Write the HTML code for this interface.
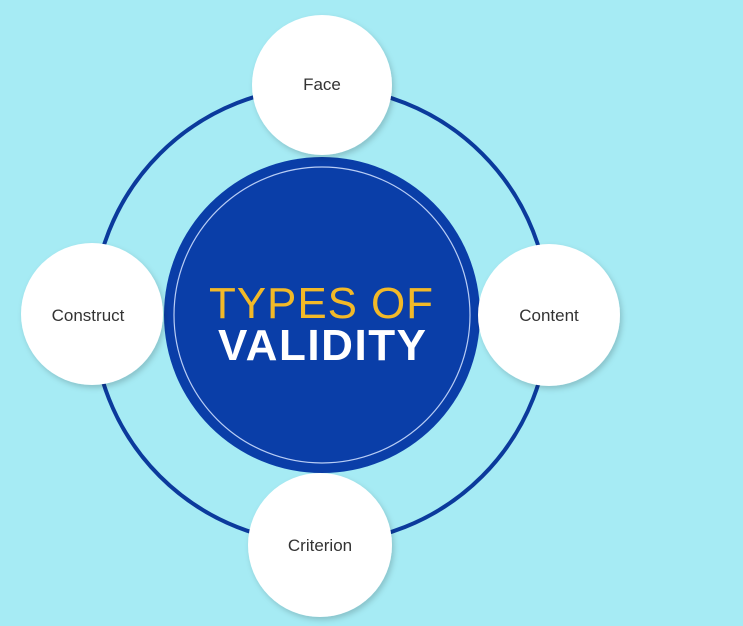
<!DOCTYPE html>
<html><head><style>
html,body{margin:0;padding:0;width:743px;height:626px;overflow:hidden;background:#a6ebf4;}
svg{display:block}
</style></head><body>
<svg width="743" height="626" viewBox="0 0 743 626" xmlns="http://www.w3.org/2000/svg">
<defs><filter id="s" x="-20%" y="-20%" width="140%" height="140%"><feDropShadow dx="2" dy="3" stdDeviation="3" flood-color="#000" flood-opacity="0.18"/></filter></defs>
<rect width="743" height="626" fill="#a6ebf4"/>
<circle cx="321" cy="315" r="228" fill="none" stroke="#0b3a9c" stroke-width="4"/>
<circle cx="322" cy="315" r="158" fill="#0a3ea8"/>
<circle cx="322" cy="315" r="148" fill="none" stroke="#b8cdf5" stroke-width="1.2"/>
<text x="321" y="318" text-anchor="middle" font-family="Liberation Sans, sans-serif" font-size="44" fill="#f2b928" textLength="224">TYPES OF</text>
<text x="322" y="360" text-anchor="middle" font-family="Liberation Sans, sans-serif" font-size="44" font-weight="bold" fill="#ffffff" textLength="208">VALIDITY</text>
<g filter="url(#s)" fill="#fff">
<circle cx="322" cy="85" r="70"/>
<circle cx="92" cy="314" r="71"/>
<circle cx="549" cy="315" r="71"/>
<circle cx="320" cy="545" r="72"/>
</g>
<g font-family="Liberation Sans, sans-serif" font-size="17" fill="#333" text-anchor="middle">
<text x="322" y="90">Face</text>
<text x="88" y="321">Construct</text>
<text x="549" y="321">Content</text>
<text x="320" y="551">Criterion</text>
</g>
</svg>
</body></html>
